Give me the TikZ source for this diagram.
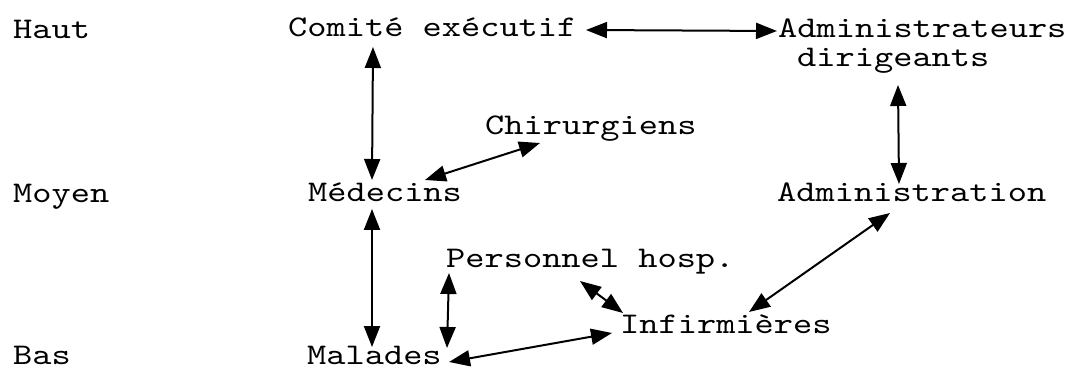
\documentclass[tikz,border=0pt]{standalone}
\usepackage{fontspec}
\newfontfamily\typewriter{lmmono10-regular}[Extension=.otf,FakeStretch=1.22]
\usetikzlibrary{arrows.meta}
\begin{document}
\begin{tikzpicture}[x=1pt,y=1pt,
  lbl/.style={anchor=base west,inner sep=0pt,text depth=0pt,font=\typewriter\fontsize{30}{34}\selectfont},
  head/.tip={Triangle[length=21pt,width=16pt]},
  link/.style={line width=2pt,head-head}]
\useasboundingbox (0,0) rectangle (1073,-371);
% level labels
\node[lbl] (haut)  at (13,-39)  {Haut};
\node[lbl] (moyen) at (13,-203) {Moyen};
\node[lbl] (bas)   at (13,-364) {Bas};
% actors
\node[lbl] (comite)   at (288,-37)  {Comité exécutif};
\node[lbl] (admA)     at (778,-38)  {Administrateurs};
\node[lbl] (admB)     at (797,-67)  {dirigeants};
\node[lbl] (chir)     at (485,-135) {Chirurgiens};
\node[lbl] (medecins) at (308,-202) {Médecins};
\node[lbl] (admin)    at (777,-202) {Administration};
\node[lbl] (perso)    at (446,-268) {Personnel hosp.};
\node[lbl] (infirm)   at (620,-333) {Infirmières};
\node[lbl] (malades)  at (307,-364) {Malades};
% relations
\draw[link] ([xshift=298pt,yshift=7pt]comite.base west) -- ([xshift=-1pt,yshift=7pt]admA.base west);
\draw[link] ([xshift=85pt,yshift=-10pt]comite.base west) -- ([xshift=64pt,yshift=22pt]medecins.base west);
\draw[link] ([xshift=55pt,yshift=-8pt]chir.base west) -- ([xshift=117pt,yshift=22pt]medecins.base west);
\draw[link] ([xshift=101pt,yshift=-18pt]admB.base west) -- ([xshift=122pt,yshift=18pt]admin.base west);
\draw[link] ([xshift=64pt,yshift=-7pt]medecins.base west) -- ([xshift=65pt,yshift=17pt]malades.base west);
\draw[link] ([xshift=3pt,yshift=-5pt]perso.base west) -- ([xshift=140pt,yshift=16pt]malades.base west);
\draw[link] ([xshift=142pt,yshift=2pt]malades.base west) -- ([xshift=-8pt,yshift=0pt]infirm.base west);
\draw[link] ([xshift=134pt,yshift=-13pt]perso.base west) -- ([xshift=3pt,yshift=20pt]infirm.base west);
\draw[link] ([xshift=113pt,yshift=-11pt]admin.base west) -- ([xshift=129pt,yshift=21pt]infirm.base west);
\end{tikzpicture}
\end{document}
